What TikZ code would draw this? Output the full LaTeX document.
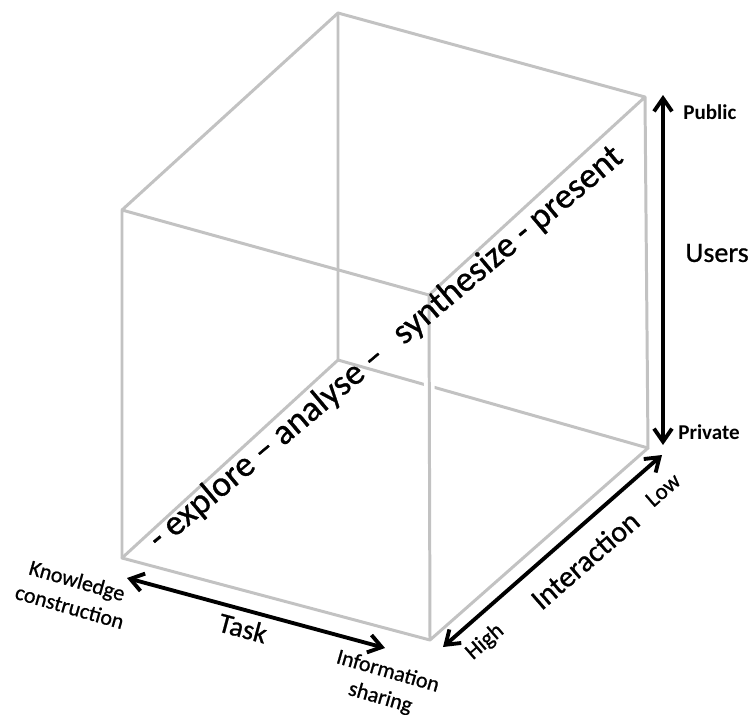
\documentclass[tikz,border=0pt]{standalone}
\usepackage{fontspec}
\setmainfont{Carlito}[UprightFeatures={FakeBold=0.8}]
\usetikzlibrary{arrows.meta}
\begin{document}
\begin{tikzpicture}[x=0.02cm, y=-0.02cm, line join=round, line cap=round,
  >={Straight Barb[length=2.6mm, width=3.6mm]},
  edge/.style={draw=black!24, line width=1.7pt},
  axis/.style={<->, line width=2.2pt},
  tag/.style={inner sep=0pt, font=\fontsize{12}{14}\selectfont\bfseries},
  small/.style={inner sep=0pt, align=center, font=\fontsize{12.5}{15.5}\selectfont},
  big/.style={inner sep=0pt, font=\fontsize{16}{19}\selectfont}]
\useasboundingbox (0,0) rectangle (751,714);
\path (122,210) coordinate (A) (429,295) coordinate (B) (430,640) coordinate (C) (122,558) coordinate (D)
  (338,13) coordinate (E) (645,97) coordinate (F) (648,448) coordinate (G) (338,360) coordinate (H);
\draw[edge] (D)--(H)--(G) (H)--(E);
\draw[white, line width=6pt, shorten <=20pt, shorten >=20pt] (B)--(C);
\draw[edge] (A)--(E)--(F)--(B)--cycle (F)--(G)--(C)--(D)--(A) (B)--(C);
\node[rotate=40, inner sep=0pt, font=\fontsize{20.4}{24}\selectfont] (steps) at (386,348)
  {- explore – analyse –\hspace{8pt} synthesize - present};
\path (663,95) coordinate (up) (663,445) coordinate (down)
  (127,578) coordinate (kc) (385,648) coordinate (is)
  (443,647) coordinate (hi) (662,455) coordinate (lo);
\draw[axis] (up)--(down);
\draw[axis] (kc)--(is);
\draw[axis] (hi)--(lo);
\node[tag, anchor=west] (pub) at (683,112) {Public};
\node[tag, anchor=west] (priv) at (678,432) {Private};
\node[big, anchor=west] (users) at (685,253) {Users};
\node[small, rotate=-16] (know) at (73.5,593.5) {Knowledge\\construction};
\node[small, rotate=-16] (info) at (384,685) {Information\\sharing};
\node[big, rotate=-15] (task) at (243,628) {Task};
\node[big, rotate=41, font=\fontsize{17}{20}\selectfont] (inter) at (585,560) {Interaction};
\node[small, rotate=41, font=\fontsize{13}{15}\selectfont] (high) at (485,642) {High};
\node[small, rotate=41, font=\fontsize{13}{15}\selectfont] (low) at (663,490) {Low};
\end{tikzpicture}
\end{document}
